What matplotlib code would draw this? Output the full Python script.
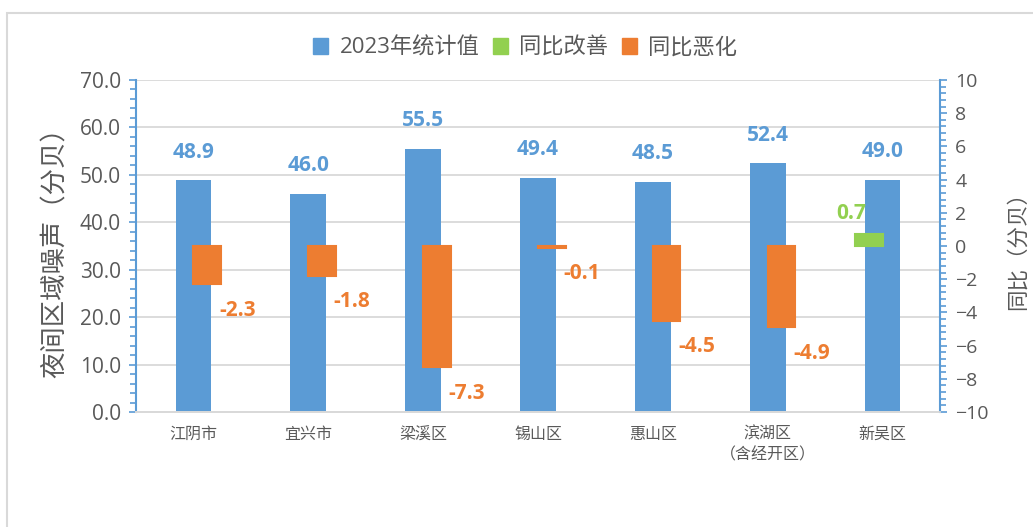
import matplotlib.pyplot as plt
from matplotlib.patches import Rectangle, Patch
from matplotlib.ticker import MultipleLocator

plt.rcParams['font.family'] = ['Open Sans', 'Noto Sans CJK SC', 'DejaVu Sans']

# 数据
districts = ['江阴市', '宜兴市', '梁溪区', '锡山区', '惠山区', '滨湖区\n（含经开区）', '新吴区']
values_2023 = [48.9, 46.0, 55.5, 49.4, 48.5, 52.4, 49.0]
improve = [None, None, None, None, None, None, 0.7]
worsen = [-2.3, -1.8, -7.3, -0.1, -4.5, -4.9, None]

blue = '#5B9BD5'
green = '#92D050'
orange = '#ED7D31'
grey_txt = '#595959'
grid_c = '#D9D9D9'

fig = plt.figure(figsize=(10.33, 5.27), dpi=100)
ax = fig.add_axes([136 / 1033, 1 - 412 / 527, (940 - 136) / 1033, (412 - 80) / 527])
ax2 = ax.twinx()

x = list(range(len(districts)))

# 主轴：2023年统计值
ax.bar(x, values_2023, width=0.31, color=blue, zorder=2)
for i, v in enumerate(values_2023):
    ax.annotate(f'{v:.1f}', (i, v), xytext=(0, 28), textcoords='offset pixels',
                ha='center', va='center', color=blue, fontsize=15, fontweight='bold')

# 次轴：同比
for i in x:
    if improve[i] is not None:
        ax2.bar(i - 0.12, improve[i], width=0.24, color=green, edgecolor=green,
                linewidth=1.5, zorder=3)
        ax2.annotate(f'{improve[i]:.1f}', (i - 0.12, improve[i]), xytext=(-18, 21),
                     textcoords='offset pixels', ha='center', va='center',
                     color=green, fontsize=15, fontweight='bold')
    if worsen[i] is not None:
        ax2.bar(i + 0.12, worsen[i], width=0.24, color=orange, edgecolor=orange,
                linewidth=1.5, zorder=3)
        ax2.annotate(f'{worsen[i]:.1f}', (i + 0.12, worsen[i]), xytext=(30, -26),
                     textcoords='offset pixels', ha='center', va='center',
                     color=orange, fontsize=15, fontweight='bold')

ax.set_xlim(-0.5, 6.5)
ax.set_ylim(0, 70)
ax2.set_ylim(-10, 10)

ax.yaxis.set_major_locator(MultipleLocator(10))
ax.yaxis.set_minor_locator(MultipleLocator(2))
ax2.yaxis.set_major_locator(MultipleLocator(2))
ax2.yaxis.set_minor_locator(MultipleLocator(0.4))
ax.yaxis.set_major_formatter(lambda v, p: f'{v:.1f}')

ax.grid(axis='y', color=grid_c, lw=1.3, zorder=0)
ax.set_axisbelow(True)

for a in (ax, ax2):
    a.spines['top'].set_visible(False)
    a.spines['bottom'].set_color(grid_c)
    a.spines['bottom'].set_linewidth(1.3)
ax.spines['left'].set_color(blue)
ax.spines['right'].set_visible(False)
ax2.spines['left'].set_visible(False)
ax2.spines['right'].set_color(blue)
ax.spines['left'].set_linewidth(1.5)
ax2.spines['right'].set_linewidth(1.5)

ax.tick_params(axis='y', which='both', color=blue, labelcolor=grey_txt, labelsize=15, length=5, width=1.2, pad=6)
ax.tick_params(axis='y', which='minor', length=4)
ax2.tick_params(axis='y', which='both', color=blue, labelcolor=grey_txt, labelsize=14, length=5, width=1.2, pad=6)
ax2.tick_params(axis='y', which='minor', length=4)

ax.set_xticks(x)
ax.set_xticklabels(districts, fontsize=11.5, color=grey_txt, family=['Noto Sans CJK SC'], linespacing=1.3)
ax.tick_params(axis='x', length=0, pad=10)

ax.set_ylabel('夜间区域噪声（分贝）', fontsize=19, color=grey_txt, labelpad=8)
ax2.set_ylabel('同比（分贝）', fontsize=15.5, color=grey_txt, labelpad=14)

handles = [Patch(color=blue), Patch(color=green), Patch(color=orange)]
fig.legend(handles, ['2023年统计值', '同比改善', '同比恶化'], loc='center',
           bbox_to_anchor=(525 / 1033, 1 - 48 / 527), ncol=3, frameon=False,
           fontsize=16, labelcolor=grey_txt, handlelength=0.7, handleheight=0.7,
           handletextpad=0.5, columnspacing=0.6)

# 外框
fig.patches.append(Rectangle((7 / 1033, -0.1), 1.2, 1.1 - 13 / 527, transform=fig.transFigure,
                             fill=False, edgecolor=grid_c, lw=1.5))

fig.savefig('out.png', dpi=100)
